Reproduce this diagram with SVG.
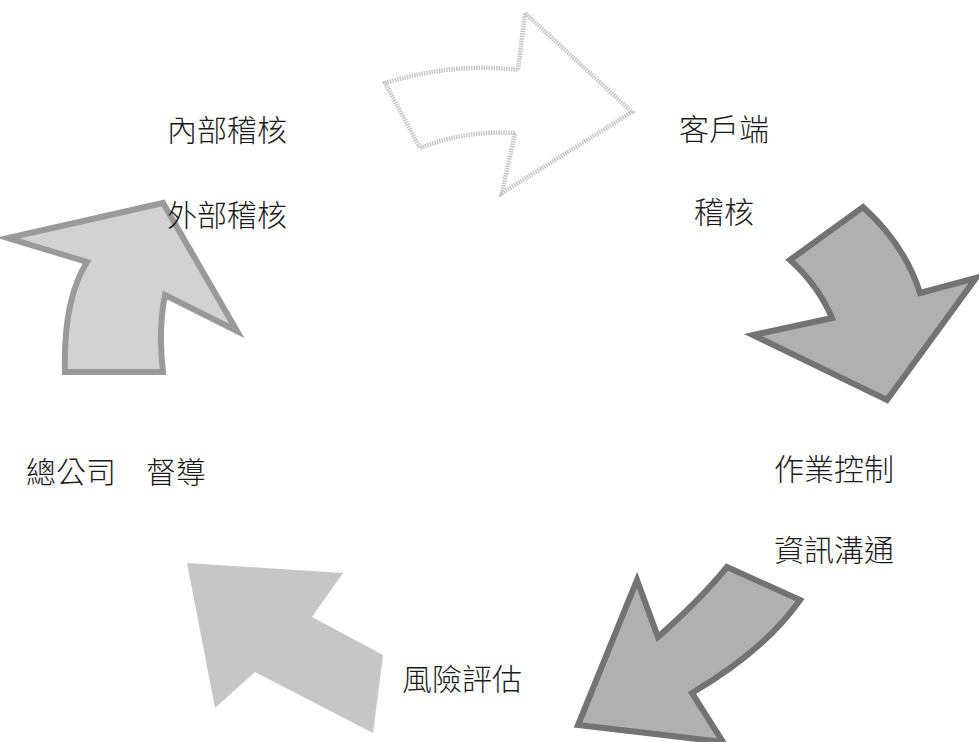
<svg xmlns="http://www.w3.org/2000/svg" width="979" height="742" viewBox="0 0 979 742">
  <style>
    .lbl { font-family: "Noto Sans CJK TC", "Noto Sans CJK SC", "Liberation Sans", sans-serif; font-size: 30px; font-weight: 300; fill: #1a1a1a; }
    .outline { fill: #ffffff; stroke: #c6c6c6; stroke-width: 4.5; stroke-linejoin: miter; stroke-dasharray: 1.5 1; }
    .light { fill: #d2d2d2; stroke: #9a9a9a; stroke-width: 6; stroke-linejoin: miter; }
    .mid { fill: #b0b0b0; stroke: #737373; stroke-width: 6; stroke-linejoin: miter; }
    .plain { fill: #c6c6c6; stroke: none; }
  </style>
  <rect width="979" height="742" fill="#ffffff"/>
  <g id="connectors">
    <path id="arrow-top" class="outline" d="M385,83 Q455,62 518,70 L525,13 L632,112 L502,193 L515,133 Q465,130 420,148 Z"/>
    <path id="arrow-right" class="mid" d="M790,260 L863,207 Q905,245 920,293 L976,278 L887,400 L753,335 L832,318 Q818,285 790,260 Z"/>
    <path id="arrow-bottom-right" class="mid" d="M727,567 L800,600 Q765,650 692,693 L723,742 L578,725 L637,580 L658,637 Q700,600 727,567 Z"/>
    <path id="arrow-bottom-left" class="plain" d="M187,563 L343,573 L312,617 L383,655 L373,733 L255,672 L215,708 Z"/>
    <path id="arrow-left" class="light" d="M65,372 Q63,300 87,262 L8,238 L163,203 L237,331 L165,295 Q158,330 163,372 Z"/>
  </g>
  <g id="node-internal-audit"><text class="lbl" x="167" y="141">內部稽核</text></g>
  <g id="node-external-audit"><text class="lbl" x="167" y="226">外部稽核</text></g>
  <g id="node-client"><text class="lbl" x="679" y="140">客戶端</text></g>
  <g id="node-client-audit"><text class="lbl" x="694" y="223">稽核</text></g>
  <g id="node-hq"><text class="lbl" x="26" y="483">總公司　督導</text></g>
  <g id="node-operation"><text class="lbl" x="774" y="480">作業控制</text></g>
  <g id="node-info"><text class="lbl" x="774" y="561">資訊溝通</text></g>
  <g id="node-risk"><text class="lbl" x="402" y="690">風險評估</text></g>
</svg>
